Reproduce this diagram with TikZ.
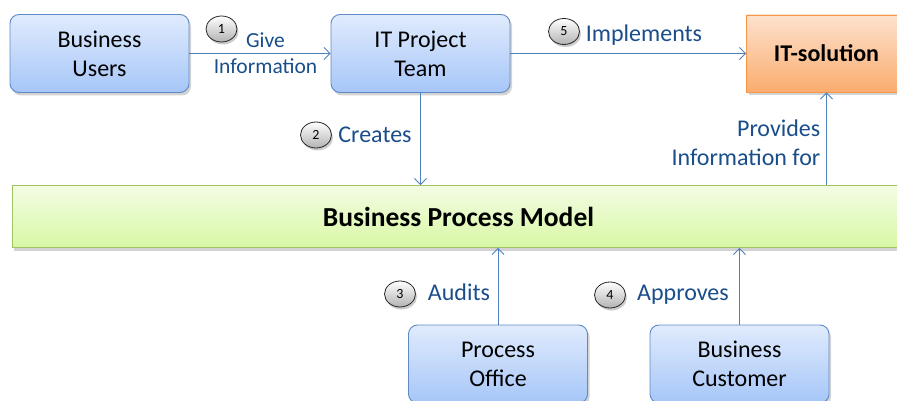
\documentclass[tikz,border=0pt]{standalone}
\usepackage{fontspec}
\setmainfont{Carlito}
\usetikzlibrary{shadows,arrows.meta,shapes.geometric}
\definecolor{boxtop}{RGB}{224,235,253}
\definecolor{boxbot}{RGB}{166,198,248}
\definecolor{boxline}{RGB}{95,138,198}
\definecolor{greentop}{RGB}{243,252,228}
\definecolor{greenbot}{RGB}{216,248,164}
\definecolor{greenline}{RGB}{160,196,100}
\definecolor{orangetop}{RGB}{253,226,206}
\definecolor{orangebot}{RGB}{250,172,110}
\definecolor{orangeline}{RGB}{247,150,70}
\definecolor{arrowblue}{RGB}{79,129,189}
\definecolor{labelblue}{RGB}{26,78,138}
\tikzset{
  bluebox/.style={rectangle, rounded corners=9pt, draw=boxline, line width=0.9pt,
    top color=boxtop, bottom color=boxbot, minimum width=179pt, minimum height=78pt,
    inner sep=0pt, align=center, font=\fontsize{24}{29}\selectfont,
    drop shadow={opacity=0.35, shadow xshift=2pt, shadow yshift=-3pt}},
  orangebox/.style={rectangle, draw=orangeline, line width=0.9pt,
    top color=orangetop, bottom color=orangebot, minimum width=160pt, minimum height=77pt,
    inner sep=0pt, font=\fontsize{24}{29}\selectfont\bfseries,
    drop shadow={opacity=0.35, shadow xshift=2pt, shadow yshift=-3pt}},
  greenbox/.style={rectangle, draw=greenline, line width=0.9pt,
    top color=greentop, bottom color=greenbot, minimum width=893pt, minimum height=62pt,
    inner sep=0pt, font=\fontsize{27.5}{32}\selectfont\bfseries,
    drop shadow={opacity=0.35, shadow xshift=2pt, shadow yshift=-3pt}},
  conn/.style={draw=arrowblue, line width=0.9pt, -{Straight Barb[length=6pt,width=12pt,line width=0.9pt]}},
  lbl/.style={text=labelblue, inner sep=0pt, font=\fontsize{24}{29.5}\selectfont},
  numc/.style={ellipse, draw=black!85, line width=0.8pt, top color=white, bottom color=black!30,
    minimum width=31pt, minimum height=26pt, inner sep=0pt, font=\fontsize{14}{14}\selectfont,
    drop shadow={opacity=0.4, shadow xshift=1.5pt, shadow yshift=-2.5pt}}
}
\begin{document}
\begin{tikzpicture}[x=1pt,y=-1pt]
\useasboundingbox (0,0) rectangle (897,401);
\clip (0,0) rectangle (897,401);
% boxes
\node[bluebox] (bu) at (99.5,53.5) {Business\\Users};
\node[bluebox] (itpt) at (420.5,53.5) {IT Project\\Team};
\node[orangebox] (its) at (826.5,53.5) {IT-solution};
\node[greenbox] (bpm) at (458.5,216.5) {Business Process Model};
\node[bluebox] (po) at (498,364) {Process\\Office};
\node[bluebox] (bc) at (739.5,364) {Business\\Customer};
% connectors
\draw[conn] (bu) -- (itpt);
\draw[conn] (itpt) -- (its);
\draw[conn] (itpt.south) -- (itpt.south |- bpm.north);
\draw[conn] (bpm.north -| its.south) -- (its.south);
\draw[conn] (po.north) -- (po.north |- bpm.south);
\draw[conn] (bc.north) -- (bc.north |- bpm.south);
% labels
\node[numc] (n1) at (221.5,29) {1};
\node[lbl, align=center, font=\fontsize{21.5}{26}\selectfont] (l1) at (265.5,53) {Give\\Information};
\node[numc] (n5) at (564,31.5) {5};
\node[lbl] (l5) at (644,35) {Implements};
\node[numc] (n2) at (316,135) {2};
\node[lbl] (l2) at (375,135) {Creates};
\node[lbl, align=right, anchor=east] (lp) at (820.5,143) {Provides\\Information for};
\node[numc] (n3) at (400,294) {3};
\node[lbl] (l3) at (459,292) {Audits};
\node[numc] (n4) at (610,295) {4};
\node[lbl] (l4) at (683,295) {Approves};
\end{tikzpicture}
\end{document}
